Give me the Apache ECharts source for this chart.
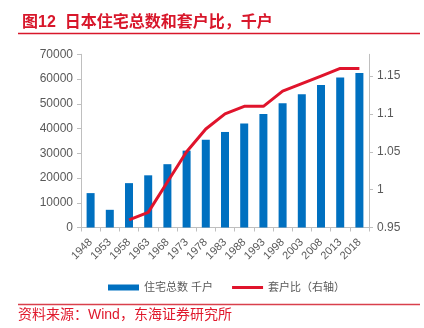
<!DOCTYPE html>
<html><head><meta charset="utf-8">
<script src="https://cdn.jsdelivr.net/npm/echarts@6/dist/echarts.min.js"></script>
<style>html,body{margin:0;padding:0;background:#fff}#c{width:424px;height:328px}</style>
</head><body><div id="c"></div>
<script>
const years = ['1948','1953','1958','1963','1968','1973','1978','1983','1988','1993','1998','2003','2008','2013','2018'];
const housing = [13900, 7150, 17930, 21090, 25590, 31060, 35450, 38610, 42010, 45880, 50250, 53890, 57590, 60630, 62410];
const ratio = [null, null, 0.96, 0.97, 1.01, 1.05, 1.08, 1.10, 1.11, 1.11, 1.13, 1.14, 1.15, 1.16, 1.16];
const rightTicks = [0.95, 1, 1.05, 1.1, 1.15];
const FONT = 'Liberation Sans, Noto Sans CJK SC, sans-serif';
const chart = echarts.init(document.getElementById('c'), null, {renderer:'canvas'});
chart.setOption({
  animation:false,
  textStyle:{fontFamily:FONT},
  title:{text:'图12  日本住宅总数和套户比，千户', left:17, top:10,
    textStyle:{color:'#d8172b', fontSize:16, fontWeight:'bold', fontFamily:FONT}},
  graphic:[
    {type:'line', shape:{x1:18,y1:33.5,x2:420,y2:33.5}, style:{stroke:'#d8172b', lineWidth:1.5}},
    {type:'line', shape:{x1:18,y1:304.5,x2:420,y2:304.5}, style:{stroke:'#d9404c', lineWidth:1.5}},
    {type:'text', left:18, top:308, style:{text:'资料来源：Wind，东海证券研究所', fill:'#e0182c', fontSize:14, fontFamily:FONT}}
  ],
  legend:{left:103, top:277, itemWidth:31, itemHeight:6, itemGap:19,
    textStyle:{color:'#595959', fontSize:11, fontFamily:FONT},
    data:[{name:'住宅总数 千户', icon:'rect'},
          {name:'套户比（右轴）', icon:'path://M0,0 L31,0 L31,3 L0,3 Z'}]},
  grid:{left:81, right:55, top:54.3, bottom:100.5},
  xAxis:{type:'category', data:years, boundaryGap:true,
    axisLine:{lineStyle:{color:'#bfbfbf'}},
    axisTick:{show:true, alignWithLabel:false, length:4, lineStyle:{color:'#bfbfbf'}},
    axisLabel:{rotate:45, interval:0, color:'#595959', fontSize:11, margin:13}},
  yAxis:[
    {type:'value', min:0, max:70000, interval:10000, splitLine:{show:false},
      axisLine:{show:true, lineStyle:{color:'#bfbfbf'}},
      axisTick:{show:true, length:4, lineStyle:{color:'#bfbfbf'}},
      axisLabel:{color:'#595959', fontSize:12, margin:8, formatter:function(v){return String(v);}}},
    {type:'value', min:0.95, max:1.1787, interval:0.05, splitLine:{show:false},
      axisLine:{show:true, lineStyle:{color:'#bfbfbf'}},
      axisTick:{show:true, length:4, customValues:rightTicks, lineStyle:{color:'#bfbfbf'}},
      axisLabel:{color:'#595959', fontSize:12, margin:8, customValues:rightTicks}}
  ],
  series:[
    {name:'住宅总数 千户', type:'bar', data:housing, barWidth:8, itemStyle:{color:'#0070c0'}},
    {name:'套户比（右轴）', type:'line', yAxisIndex:1, data:ratio, symbol:'none',
      lineStyle:{color:'#e0142c', width:3}, itemStyle:{color:'#e0142c'}}
  ]
});
</script></body></html>
